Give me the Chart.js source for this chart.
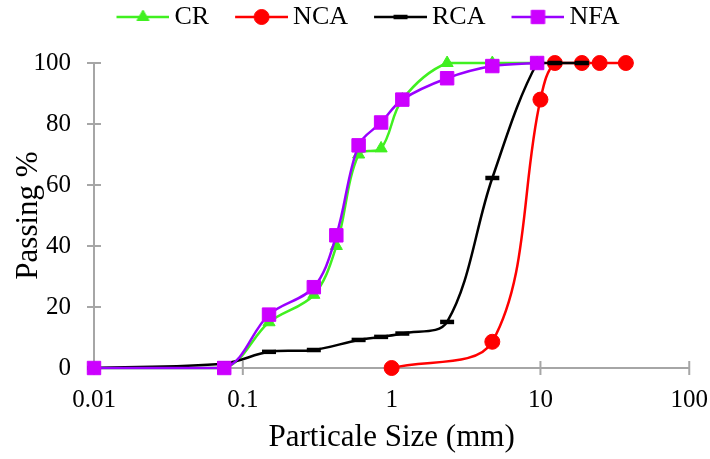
<!DOCTYPE html>
<html>
<head>
<meta charset="utf-8">
<script src="https://cdn.jsdelivr.net/npm/chart.js@4.4.1/dist/chart.umd.min.js"></script>
<style>
  html, body { margin: 0; padding: 0; background: #fff; }
  #wrap { width: 710px; height: 459px; }
</style>
</head>
<body>
<div id="wrap"><canvas id="myChart"></canvas></div>
<script>
// sieve sizes (mm) and percent passing
const crSize  = [0.01, 0.075, 0.15, 0.3, 0.425, 0.6, 0.85, 1.18, 2.36, 4.75, 9.5];
const crPass  = [0, 0, 15, 24, 40, 70, 72, 88, 100, 100, 100];
const ncaSize = [1, 4.75, 10, 12.5, 19, 25, 37.5];
const ncaPass = [0, 8.6, 88, 100, 100, 100, 100];
const rcaSize = [0.01, 0.075, 0.15, 0.3, 0.6, 0.85, 1.18, 2.36, 4.75, 9.5, 12.5, 19];
const rcaPass = [0, 1.5, 5.3, 5.9, 9.2, 10.2, 11.3, 15.1, 62.3, 100, 100, 100];
const nfaSize = [0.01, 0.075, 0.15, 0.3, 0.425, 0.6, 0.85, 1.18, 2.36, 4.75, 9.5];
const nfaPass = [0, 0, 17.5, 26.5, 43.5, 73, 80.5, 88, 95, 99, 100];

const xTicks = [0.01, 0.1, 1, 10, 100];
const yTicks = [0, 20, 40, 60, 80, 100];

const axisGray = '#A6A6A6';
const green = '#40F020';
const red = '#FF0000';
const black = '#000000';
const purple = '#9900FF';
const violet = '#CC00FF';

function pts(xs, ys) {
  return xs.map((x, i) => ({ x: x, y: ys[i] }));
}

// little legend picture: line with the marker on it
function legendIcon(lineColor, markColor, style, radius, bw) {
  const c = document.createElement('canvas');
  c.width = 83; c.height = 20;
  const g = c.getContext('2d');
  g.strokeStyle = lineColor;
  g.lineWidth = 2.5;
  g.beginPath(); g.moveTo(30, 10); g.lineTo(83, 10); g.stroke();
  g.fillStyle = markColor;
  g.strokeStyle = markColor;
  g.lineWidth = bw;
  Chart.helpers.drawPoint(g, { pointStyle: style, radius: radius, rotation: 0, borderWidth: bw }, 56.5, 10);
  return c;
}

// tick marks that cross the axis lines
const crossTicks = {
  id: 'crossTicks',
  beforeDatasetsDraw(chart) {
    const { ctx, chartArea, scales } = chart;
    ctx.save();
    ctx.strokeStyle = axisGray;
    ctx.lineWidth = 2;
    ctx.beginPath();
    yTicks.forEach(v => {
      const y = scales.y.getPixelForValue(v);
      ctx.moveTo(chartArea.left, y); ctx.lineTo(chartArea.left + 7, y);
    });
    xTicks.forEach(v => {
      const x = scales.x.getPixelForValue(v);
      ctx.moveTo(x, chartArea.bottom + 7); ctx.lineTo(x, chartArea.bottom - 7);
    });
    ctx.stroke();
    ctx.restore();
  }
};

// empty box between legend and plot
const spacer = {
  id: 'spacer',
  beforeInit(chart) {
    Chart.layouts.addBox(chart, {
      position: 'top', weight: 500, fullSize: true, width: 0, height: 0,
      options: {},
      isHorizontal() { return true; },
      update(maxWidth) { this.width = maxWidth; this.height = 23; },
      draw() {}
    });
  }
};

Chart.defaults.font.family = "'Liberation Serif', 'Times New Roman', serif";
Chart.defaults.color = '#000';

const icons = [
  legendIcon(green, green, 'triangle', 7, 1),
  legendIcon(red, red, 'circle', 7.5, 1),
  legendIcon(black, black, 'line', 7, 4.5),
  legendIcon(purple, violet, 'rect', 9.5, 1)
];

const ctx = document.getElementById('myChart');
const myChart = new Chart(ctx, {
  type: 'scatter',
  data: {
    datasets: [{
      label: 'CR',
      data: pts(crSize, crPass),
      showLine: true,
      borderColor: green,
      backgroundColor: green,
      borderWidth: 2.5,
      pointStyle: 'triangle',
      pointRadius: 7,
      pointBorderWidth: 1,
      tension: 0.35,
      clip: false,
      order: 4
    }, {
      label: 'NCA',
      data: pts(ncaSize, ncaPass),
      showLine: true,
      borderColor: red,
      backgroundColor: red,
      borderWidth: 2.5,
      pointStyle: 'circle',
      pointRadius: 7.5,
      pointBorderWidth: 1,
      tension: 0.35,
      clip: false,
      order: 3
    }, {
      label: 'RCA',
      data: pts(rcaSize, rcaPass),
      showLine: true,
      borderColor: black,
      backgroundColor: black,
      borderWidth: 2.5,
      pointStyle: 'line',
      pointRadius: 7,
      pointBorderWidth: 4.5,
      tension: 0.35,
      clip: false,
      order: 2
    }, {
      label: 'NFA',
      data: pts(nfaSize, nfaPass),
      showLine: true,
      borderColor: purple,
      backgroundColor: violet,
      pointBorderColor: violet,
      borderWidth: 2.5,
      pointStyle: 'rect',
      pointRadius: 9.5,
      pointBorderWidth: 1,
      tension: 0.35,
      clip: false,
      order: 1
    }]
  },
  options: {
    responsive: true,
    maintainAspectRatio: false,
    animation: false,
    layout: { padding: { left: 16, right: 12, top: 0, bottom: 0 } },
    scales: {
      x: {
        type: 'logarithmic',
        min: 0.01,
        max: 100,
        afterBuildTicks: s => { s.ticks = xTicks.map(v => ({ value: v })); },
        afterFit: s => { s.height = 91; },
        ticks: {
          font: { size: 25 },
          padding: 2,
          maxRotation: 0,
          autoSkip: false,
          callback: v => String(v)
        },
        grid: { drawOnChartArea: false, drawTicks: true, tickLength: 15, tickColor: 'rgba(0,0,0,0)', color: axisGray, lineWidth: 2 },
        border: { display: true, color: axisGray, width: 2 },
        title: { display: true, text: 'Particale Size (mm)', font: { size: 31, lineHeight: 1.2 }, padding: { top: 0, bottom: 3 } }
      },
      y: {
        min: 0,
        max: 100,
        afterFit: s => { s.width = 78; },
        ticks: { stepSize: 20, font: { size: 25 }, padding: 16 },
        grid: { drawOnChartArea: false, drawTicks: true, tickLength: 7, color: axisGray, lineWidth: 2 },
        border: { display: true, color: axisGray, width: 2 },
        title: { display: true, text: 'Passing %', font: { size: 31, lineHeight: 0.8 }, padding: { top: 0, bottom: 0 } }
      }
    },
    plugins: {
      tooltip: { enabled: false },
      legend: {
        position: 'top',
        labels: {
          font: { size: 26 },
          color: '#000',
          padding: 4,
          usePointStyle: true,
          pointStyleWidth: 67,
          generateLabels: chart => chart.data.datasets.map((ds, i) => ({
            text: ds.label,
            pointStyle: icons[i],
            datasetIndex: i,
            hidden: false,
            lineWidth: 0,
            fontColor: '#000'
          }))
        }
      }
    }
  },
  plugins: [crossTicks, spacer]
});
</script>
</body>
</html>
